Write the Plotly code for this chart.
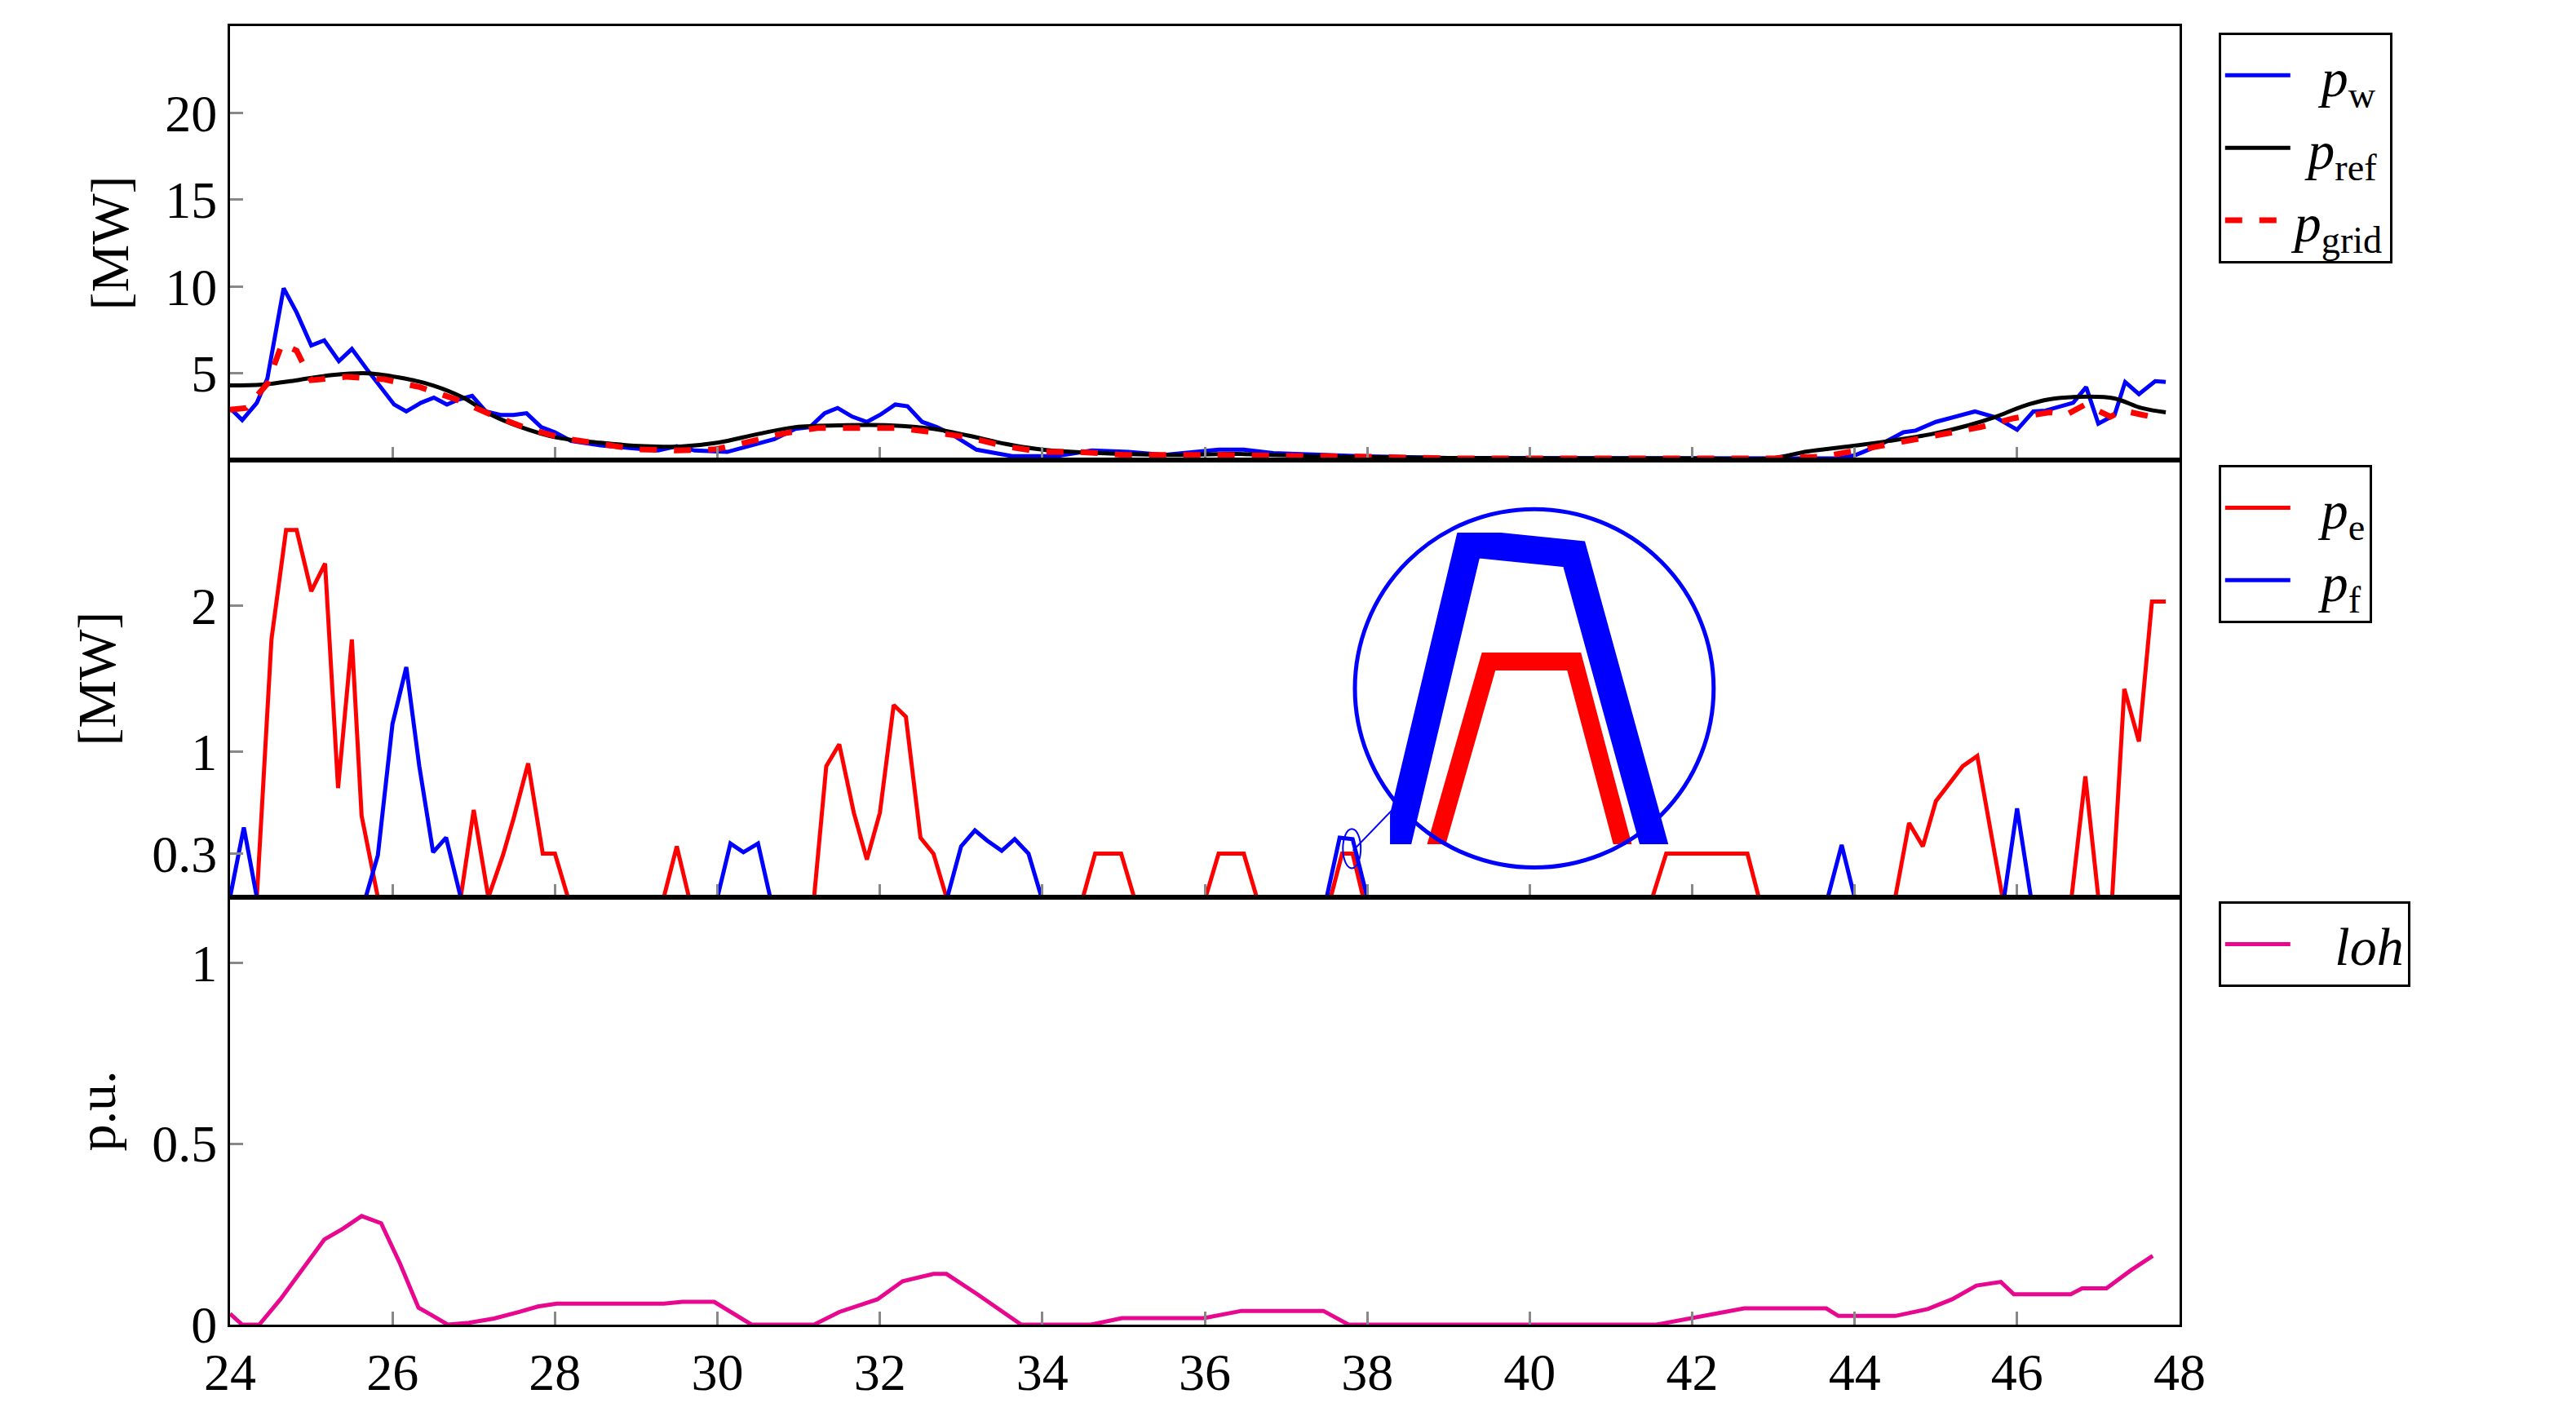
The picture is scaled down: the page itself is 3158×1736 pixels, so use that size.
import plotly.graph_objects as go

# ---------------- data (hours, MW / p.u.) ----------------
pw_x = [24, 24.15, 24.33, 24.46, 24.66, 24.82, 25.0, 25.16, 25.34, 25.5, 25.69, 25.84, 26.02, 26.17, 26.35, 26.51,
        26.67, 26.82, 26.98, 27.15, 27.33, 27.49, 27.65, 27.83, 28.0, 28.2, 28.56, 28.92, 29.27, 29.5, 29.72, 30.12,
        30.38, 30.7, 30.96, 31.14, 31.32, 31.48, 31.66, 31.84, 32.0, 32.19, 32.34, 32.52, 32.7, 32.88, 33.19, 33.63,
        34.17, 34.61, 35.06, 35.5, 36.17, 36.48, 36.84, 37.9, 39, 40, 41, 42, 43, 43.8, 44.0, 44.28, 44.6, 44.75,
        45.0, 45.48, 45.74, 46.0, 46.2, 46.35, 46.69, 46.85, 47.0, 47.2, 47.33, 47.5, 47.7, 47.83]
pw_y = [3.0, 2.3, 3.3, 4.7, 9.9, 8.5, 6.6, 6.9, 5.7, 6.4, 5.2, 4.3, 3.2, 2.8, 3.3, 3.6,
        3.2, 3.5, 3.7, 2.8, 2.6, 2.6, 2.7, 1.9, 1.6, 1.1, 0.85, 0.7, 0.55, 0.8, 0.55, 0.47,
        0.8, 1.2, 1.8, 1.9, 2.7, 3.0, 2.5, 2.2, 2.6, 3.2, 3.1, 2.2, 1.9, 1.5, 0.6, 0.23,
        0.23, 0.55, 0.47, 0.3, 0.6, 0.6, 0.4, 0.23, 0.12, 0.12, 0.12, 0.12, 0.12, 0.1, 0.27, 0.8, 1.6, 1.7,
        2.2, 2.8, 2.45, 1.75, 2.8, 2.85, 3.3, 4.2, 2.1, 2.6, 4.5, 3.8, 4.55, 4.5]

pref_x = [24, 24.4, 24.82, 25.26, 25.7, 26.15, 26.5, 26.87, 27.22, 27.58, 28.02, 28.56, 29.1, 29.54, 30.0, 30.5,
          30.96, 31.5, 32.12, 32.66, 33.1, 33.55, 34.0, 34.6, 35.5, 36.4, 37.3, 37.9, 39, 40, 41, 42, 42.96,
          43.42, 43.95, 44.42, 44.95, 45.4, 45.74, 46.07, 46.4, 46.87, 47.2, 47.53, 47.83]
pref_y = [4.3, 4.35, 4.6, 4.9, 5.0, 4.7, 4.3, 3.6, 2.6, 1.9, 1.3, 1.0, 0.8, 0.78, 1.0, 1.5,
          1.9, 2.0, 2.0, 1.8, 1.4, 0.93, 0.6, 0.42, 0.3, 0.35, 0.23, 0.18, 0.12, 0.1, 0.1, 0.1, 0.1,
          0.5, 0.8, 1.1, 1.5, 2.0, 2.5, 3.1, 3.5, 3.65, 3.55, 3.0, 2.75]

pgrid_x = [24, 24.2, 24.46, 24.64, 24.82, 25.0, 25.44, 25.9, 26.34, 26.78, 27.22, 27.67, 28.11, 28.56, 29.0, 29.5,
           29.98, 30.43, 30.83, 31.23, 31.77, 32.21, 32.66, 33.1, 33.55, 34.0, 34.44, 35.0, 36.0, 37.0, 37.9,
           39, 40, 41, 42, 43, 43.62, 44.15, 44.6, 45.1, 45.55, 45.95, 46.4, 46.6, 46.84, 47.15, 47.3, 47.55, 47.75]
pgrid_y = [2.9, 3.0, 4.4, 6.7, 6.3, 4.6, 4.8, 4.65, 4.2, 3.5, 2.6, 1.8, 1.25, 0.93, 0.62, 0.55,
           0.62, 1.1, 1.55, 1.85, 1.85, 1.85, 1.6, 1.3, 0.78, 0.47, 0.47, 0.3, 0.3, 0.28, 0.2,
           0.1, 0.1, 0.1, 0.1, 0.1, 0.2, 0.65, 1.1, 1.45, 1.9, 2.4, 2.75, 2.6, 3.2, 2.5, 2.85, 2.6, 2.4]

pe_x = [24, 24.33, 24.51, 24.69, 24.82, 25.0, 25.17, 25.33, 25.5, 25.62, 25.82, 26.84, 27.0, 27.18, 27.36, 27.49,
        27.67, 27.85, 28.0, 28.16, 29.34, 29.5, 29.65, 31.19, 31.34, 31.5, 31.68, 31.84, 32.0, 32.17, 32.32, 32.5,
        32.66, 32.82, 34.5, 34.65, 34.97, 35.13, 36.01, 36.17, 36.48, 36.64, 37.55, 37.69, 37.82, 37.95,
        41.51, 41.68, 42.68, 42.82, 44.5, 44.67, 44.84, 45.0, 45.33, 45.51, 45.82, 46.67, 46.84, 47.0, 47.17,
        47.32, 47.5, 47.66, 47.83]
pe_y = [0, 0, 1.77, 2.52, 2.52, 2.1, 2.29, 0.75, 1.77, 0.56, 0, 0, 0.6, 0, 0.29, 0.54,
        0.92, 0.3, 0.3, 0, 0, 0.35, 0, 0, 0.9, 1.05, 0.58, 0.26, 0.58, 1.32, 1.24, 0.41,
        0.3, 0, 0, 0.3, 0.3, 0, 0, 0.3, 0.3, 0, 0, 0.3, 0.3, 0,
        0, 0.3, 0.3, 0, 0, 0.51, 0.35, 0.66, 0.9, 0.97, 0, 0, 0.83, 0, 0,
        1.43, 1.07, 2.03, 2.03]

pf_x = [24, 24.17, 24.33, 25.67, 25.82, 26.0, 26.17, 26.33, 26.5, 26.66, 26.84, 30.0, 30.16, 30.32, 30.5, 30.65,
        32.83, 33.0, 33.17, 33.32, 33.5, 33.66, 33.83, 33.99, 37.5, 37.66, 37.82, 38.0, 43.67, 43.84, 44.0,
        45.84, 46.0, 46.17, 47.83]
pf_y = [0, 0.48, 0, 0, 0.29, 1.19, 1.58, 0.9, 0.31, 0.41, 0, 0, 0.37, 0.31, 0.37, 0,
        0, 0.35, 0.46, 0.39, 0.32, 0.4, 0.3, 0, 0, 0.41, 0.4, 0, 0, 0.36, 0,
        0, 0.61, 0, 0]

loh_x = [24, 24.15, 24.36, 24.62, 25.16, 25.39, 25.62, 25.86, 26.09, 26.32, 26.47, 26.68, 26.94, 27.25, 27.56,
         27.79, 28.02, 29.34, 29.57, 29.96, 30.42, 31.19, 31.5, 31.81, 31.97, 32.28, 32.66, 32.82, 33.2, 33.74,
         34.6, 34.98, 35.99, 36.45, 37.46, 37.77, 41.56, 42.64, 43.65, 43.8, 44.5, 44.9, 45.2, 45.5, 45.8,
         45.96, 46.66, 46.8, 47.1, 47.4, 47.67]
loh_y = [0.03, 0, 0, 0.07, 0.235, 0.265, 0.3, 0.28, 0.17, 0.047, 0.028, 0, 0.005, 0.017, 0.035,
         0.05, 0.058, 0.058, 0.063, 0.063, 0, 0, 0.035, 0.058, 0.07, 0.12, 0.14, 0.14, 0.084, 0,
         0, 0.018, 0.018, 0.038, 0.038, 0, 0, 0.045, 0.045, 0.024, 0.024, 0.043, 0.07, 0.108, 0.118,
         0.084, 0.084, 0.1, 0.1, 0.15, 0.19]

x_ticks = list(range(24, 49, 2))
top_ticks = [5, 10, 15, 20]
mid_ticks = [0.3, 1, 2]
bot_ticks = [0, 0.5, 1]

# ---------------- figure ----------------
FONT = "Liberation Serif"
BLUE, RED, BLACK, MAG = "#0000ff", "#ff0000", "#000000", "#e8078f"
LFS = 66
fig = go.Figure()

fig.add_trace(go.Scatter(x=pw_x, y=pw_y, mode="lines", line=dict(color=BLUE, width=5),
                         name="  <i>p</i><sub>w</sub>", legend="legend", xaxis="x", yaxis="y"))
fig.add_trace(go.Scatter(x=pref_x, y=pref_y, mode="lines", line=dict(color=BLACK, width=5, shape="spline"),
                         name=" <i>p</i><sub>ref</sub>", legend="legend", xaxis="x", yaxis="y"))
fig.add_trace(go.Scatter(x=pgrid_x, y=pgrid_y, mode="lines", line=dict(color=RED, width=7, dash="dash"),
                         name="<i>p</i><sub>grid</sub>", legend="legend", xaxis="x", yaxis="y"))
fig.add_trace(go.Scatter(x=pe_x, y=pe_y, mode="lines", line=dict(color=RED, width=5),
                         name="  <i>p</i><sub>e</sub>", legend="legend2", xaxis="x2", yaxis="y2"))
fig.add_trace(go.Scatter(x=pf_x, y=pf_y, mode="lines", line=dict(color=BLUE, width=5),
                         name="  <i>p</i><sub>f</sub>", legend="legend2", xaxis="x2", yaxis="y2"))
fig.add_trace(go.Scatter(x=loh_x, y=loh_y, mode="lines", line=dict(color=MAG, width=5),
                         name="   <i>loh</i>", legend="legend3", xaxis="x3", yaxis="y3"))
# magnified inset
fig.add_trace(go.Scatter(x=pf_x, y=pf_y, mode="lines", line=dict(color=BLUE, width=34),
                         showlegend=False, xaxis="x4", yaxis="y4"))
fig.add_trace(go.Scatter(x=pe_x, y=pe_y, mode="lines", line=dict(color=RED, width=22),
                         showlegend=False, xaxis="x4", yaxis="y4"))

ax_common = dict(showline=True, linecolor="black", linewidth=3, mirror=True, ticks="inside",
                 tickcolor="#888888", ticklen=16, tickwidth=3, showgrid=False, zeroline=False,
                 tickfont=dict(family=FONT, size=64, color="black"))
ttl = dict(family=FONT, size=66)

D_BOT, D_MID = 0.329, 0.6658
fig.update_layout(
    width=3158, height=1736, plot_bgcolor="white", paper_bgcolor="white",
    margin=dict(l=274, r=494, t=24, b=120),
    font=dict(family=FONT, color="black"),
    xaxis=dict(ax_common, range=[24, 48], domain=[0, 1], anchor="y", tickvals=x_ticks, showticklabels=False),
    yaxis=dict(ax_common, range=[0, 25], domain=[D_MID, 1], anchor="x", tickvals=top_ticks,
               title=dict(text="[MW]", font=ttl, standoff=24)),
    xaxis2=dict(ax_common, range=[24, 48], domain=[0, 1], anchor="y2", tickvals=x_ticks, showticklabels=False),
    yaxis2=dict(ax_common, range=[0, 3.0], domain=[D_BOT, D_MID], anchor="x2", tickvals=mid_ticks,
                ticktext=["0.3", "1", "2"], title=dict(text="[MW]", font=ttl, standoff=24)),
    xaxis3=dict(ax_common, range=[24, 48], domain=[0, 1], anchor="y3", tickvals=x_ticks),
    yaxis3=dict(ax_common, range=[0, 1.18], domain=[0, D_BOT], anchor="x3", tickvals=bot_ticks,
                ticktext=["0", "0.5", "1"], title=dict(text="p.u.", font=ttl, standoff=24)),
    xaxis4=dict(range=[37.54, 37.97], domain=[0.595, 0.74], anchor="y4", visible=False),
    yaxis4=dict(range=[0.13, 0.42], domain=[0.37, 0.61], anchor="x4", visible=False),
    legend=dict(x=1.02, y=0.995, xanchor="left", yanchor="top", bordercolor="black", borderwidth=3,
                font=dict(family=FONT, size=LFS), tracegroupgap=0, itemwidth=80),
    legend2=dict(x=1.02, y=0.662, xanchor="left", yanchor="top", bordercolor="black", borderwidth=3,
                 font=dict(family=FONT, size=LFS), itemwidth=80),
    legend3=dict(x=1.02, y=D_BOT - 0.003, xanchor="left", yanchor="top", bordercolor="black", borderwidth=3,
                 font=dict(family=FONT, size=LFS), itemwidth=80),
    showlegend=True,
)

# inset circle, small circle and connector
fig.add_shape(type="circle", xref="paper", yref="paper", x0=0.669 - 0.092, x1=0.669 + 0.092,
              y0=0.49 - 0.138, y1=0.49 + 0.138, line=dict(color=BLUE, width=5))
fig.add_shape(type="circle", xref="x2", yref="y2", x0=37.7, x1=37.92, y0=0.2, y1=0.47,
              line=dict(color=BLUE, width=2))
fig.add_shape(type="line", xref="paper", yref="paper", x0=0.576, y0=0.365, x1=0.601, y1=0.404,
              line=dict(color=BLUE, width=2))

fig.write_html("out.html")
